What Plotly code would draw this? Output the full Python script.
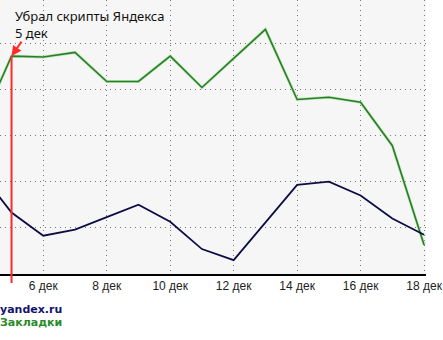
import plotly.graph_objects as go

days = [4, 5, 6, 7, 8, 9, 10, 11, 12, 13, 14, 15, 16, 17, 18]
zakladki = [31.7, 47.2, 47.0, 48.0, 41.7, 41.7, 47.2, 40.4, 46.7, 53.0, 37.8, 38.3, 37.2, 27.8, 6.3]
yandex = [22.2, 13.3, 8.3, 9.6, 12.3, 15.0, 11.3, 5.4, 3.0, 11.1, 19.3, 20.0, 17.0, 12.0, 8.5]
tick_days = [6, 8, 10, 12, 14, 16, 18]
tick_labels = ["6 дек", "8 дек", "10 дек", "12 дек", "14 дек", "16 дек", "18 дек"]
event_day = 5
event_text = "Убрал скрипты Яндекса<br>5 дек"
legend_names = ["yandex.ru", "Закладки"]

GREEN = "#2e7a2e"
NAVY = "#0d0d45"
Y_MAX = 59.35

fig = go.Figure()
fig.add_trace(go.Scatter(x=days, y=zakladki, mode="lines",
                         line=dict(color="#b8ecb0", width=3), hoverinfo="skip", showlegend=False))
fig.add_trace(go.Scatter(x=days, y=zakladki, mode="lines",
                         line=dict(color=GREEN, width=1.6), name=legend_names[1], showlegend=False))
fig.add_trace(go.Scatter(x=days, y=yandex, mode="lines",
                         line=dict(color=NAVY, width=1.8), name=legend_names[0], showlegend=False))

ev_val = zakladki[days.index(event_day)]
fig.add_shape(type="line", xref="x", yref="paper", x0=event_day, x1=event_day,
              y0=-0.033, y1=ev_val / Y_MAX, line=dict(color="#ff2a2a", width=2), layer="above")
fig.add_annotation(x=event_day, y=ev_val, xref="x", yref="y", text="", showarrow=True,
                   arrowhead=2, arrowsize=1, arrowwidth=2, arrowcolor="#ff2a2a",
                   ax=11, ay=-16)
fig.add_annotation(x=14 / 443, y=1 - 5 / 274, xref="paper", yref="paper", text=event_text,
                   showarrow=False, xanchor="left", yanchor="top", align="left",
                   font=dict(family="Noto Sans", size=13, color="#111111"))
fig.add_annotation(x=-2 / 443, y=-(309 - 274) / 274, xref="paper", yref="paper",
                   text="<b>" + legend_names[0] + "</b>", showarrow=False, xanchor="left", yanchor="middle",
                   font=dict(family="DejaVu Sans", size=11, color="#14146e"))
fig.add_annotation(x=-2 / 443, y=-(322 - 274) / 274, xref="paper", yref="paper",
                   text="<b>" + legend_names[1] + "</b>", showarrow=False, xanchor="left", yanchor="middle",
                   font=dict(family="DejaVu Sans", size=11, color="#2a8a2a"))

fig.update_layout(
    width=443, height=340,
    margin=dict(l=0, r=0, t=0, b=66),
    paper_bgcolor="white", plot_bgcolor="#f6f6f6",
    showlegend=False,
    xaxis=dict(range=[5 - 12 / 33, 5 + 431 / 33], tickvals=tick_days, ticktext=tick_labels,
               showgrid=True, gridcolor="#777777", griddash="1px,4px", gridwidth=1,
               showline=True, linecolor="black", linewidth=2,
               ticks="", ticklabeloverflow="allow",
               tickfont=dict(family="Liberation Sans", size=12, color="#222222"),
               zeroline=False, fixedrange=True),
    yaxis=dict(range=[0, Y_MAX], dtick=10, showgrid=True, gridcolor="#777777", griddash="1px,4px",
               gridwidth=1, showticklabels=False, zeroline=False, showline=False, fixedrange=True),
)
fig.write_html("out.html")
